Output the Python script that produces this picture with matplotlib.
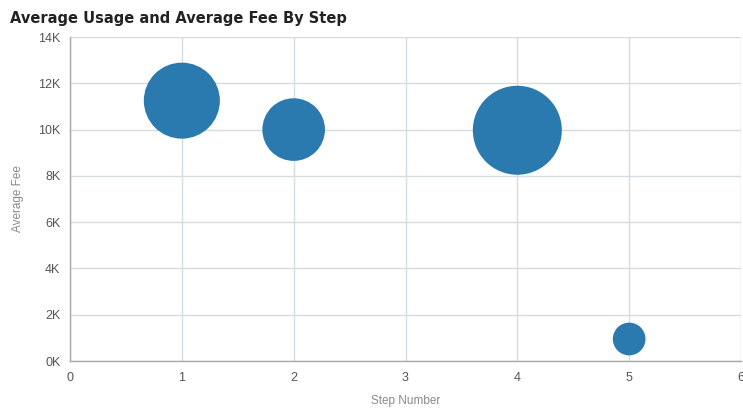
import matplotlib
matplotlib.use("Agg")
import matplotlib.pyplot as plt
from matplotlib.ticker import FuncFormatter, MultipleLocator
import numpy as np

# Data
steps = [1, 2, 4, 5]
avg_fee = [11250, 10000, 9970, 950]
avg_usage = [7300, 4950, 10000, 1350]

W, H, DPI = 743, 412, 100
fig = plt.figure(figsize=(W / DPI, H / DPI), dpi=DPI)
ax = fig.add_axes([70 / W, 51 / H, 671 / W, 324 / H])

# Bubble size: area proportional to usage, largest bubble ~89 px across
max_d_px = 89
usage = np.array(avg_usage, dtype=float)
diam_px = max_d_px * np.sqrt(usage / usage.max())
sizes = (diam_px * 72 / DPI) ** 2

ax.scatter(steps, avg_fee, s=sizes, color="#2a7ab0", edgecolors="none",
           zorder=3, clip_on=False)

ax.set_xlim(0, 6)
ax.set_ylim(0, 14000)
ax.xaxis.set_major_locator(MultipleLocator(1))
ax.yaxis.set_major_locator(MultipleLocator(2000))
ax.yaxis.set_major_formatter(FuncFormatter(lambda v, p: f"{int(v / 1000)}K"))

grid_c = "#d5dbe3"
ax.grid(True, color=grid_c, linewidth=1, zorder=0)
ax.set_axisbelow(True)
for side in ("top", "right"):
    ax.spines[side].set_visible(False)
for side in ("left", "bottom"):
    ax.spines[side].set_color("#a8a8a8")
    ax.spines[side].set_linewidth(1)

ax.tick_params(axis="both", length=0, labelsize=9, labelcolor="#555555")
ax.tick_params(axis="x", pad=8)
ax.tick_params(axis="y", pad=7)
for lab in ax.get_xticklabels() + ax.get_yticklabels():
    lab.set_family("Liberation Sans")

ax.set_xlabel("Step Number", fontsize=8.5, color="#8a8a8a",
              family="Liberation Sans", labelpad=8)
ax.set_ylabel("Average Fee", fontsize=8.5, color="#8a8a8a",
              family="Liberation Sans", labelpad=10)

fig.text(10 / W, 1 - 18 / H, "Average Usage and Average Fee By Step",
         fontsize=10.5, fontweight="bold", color="#222222",
         family="DejaVu Sans", va="center", ha="left")

fig.savefig("out.png", dpi=DPI)
